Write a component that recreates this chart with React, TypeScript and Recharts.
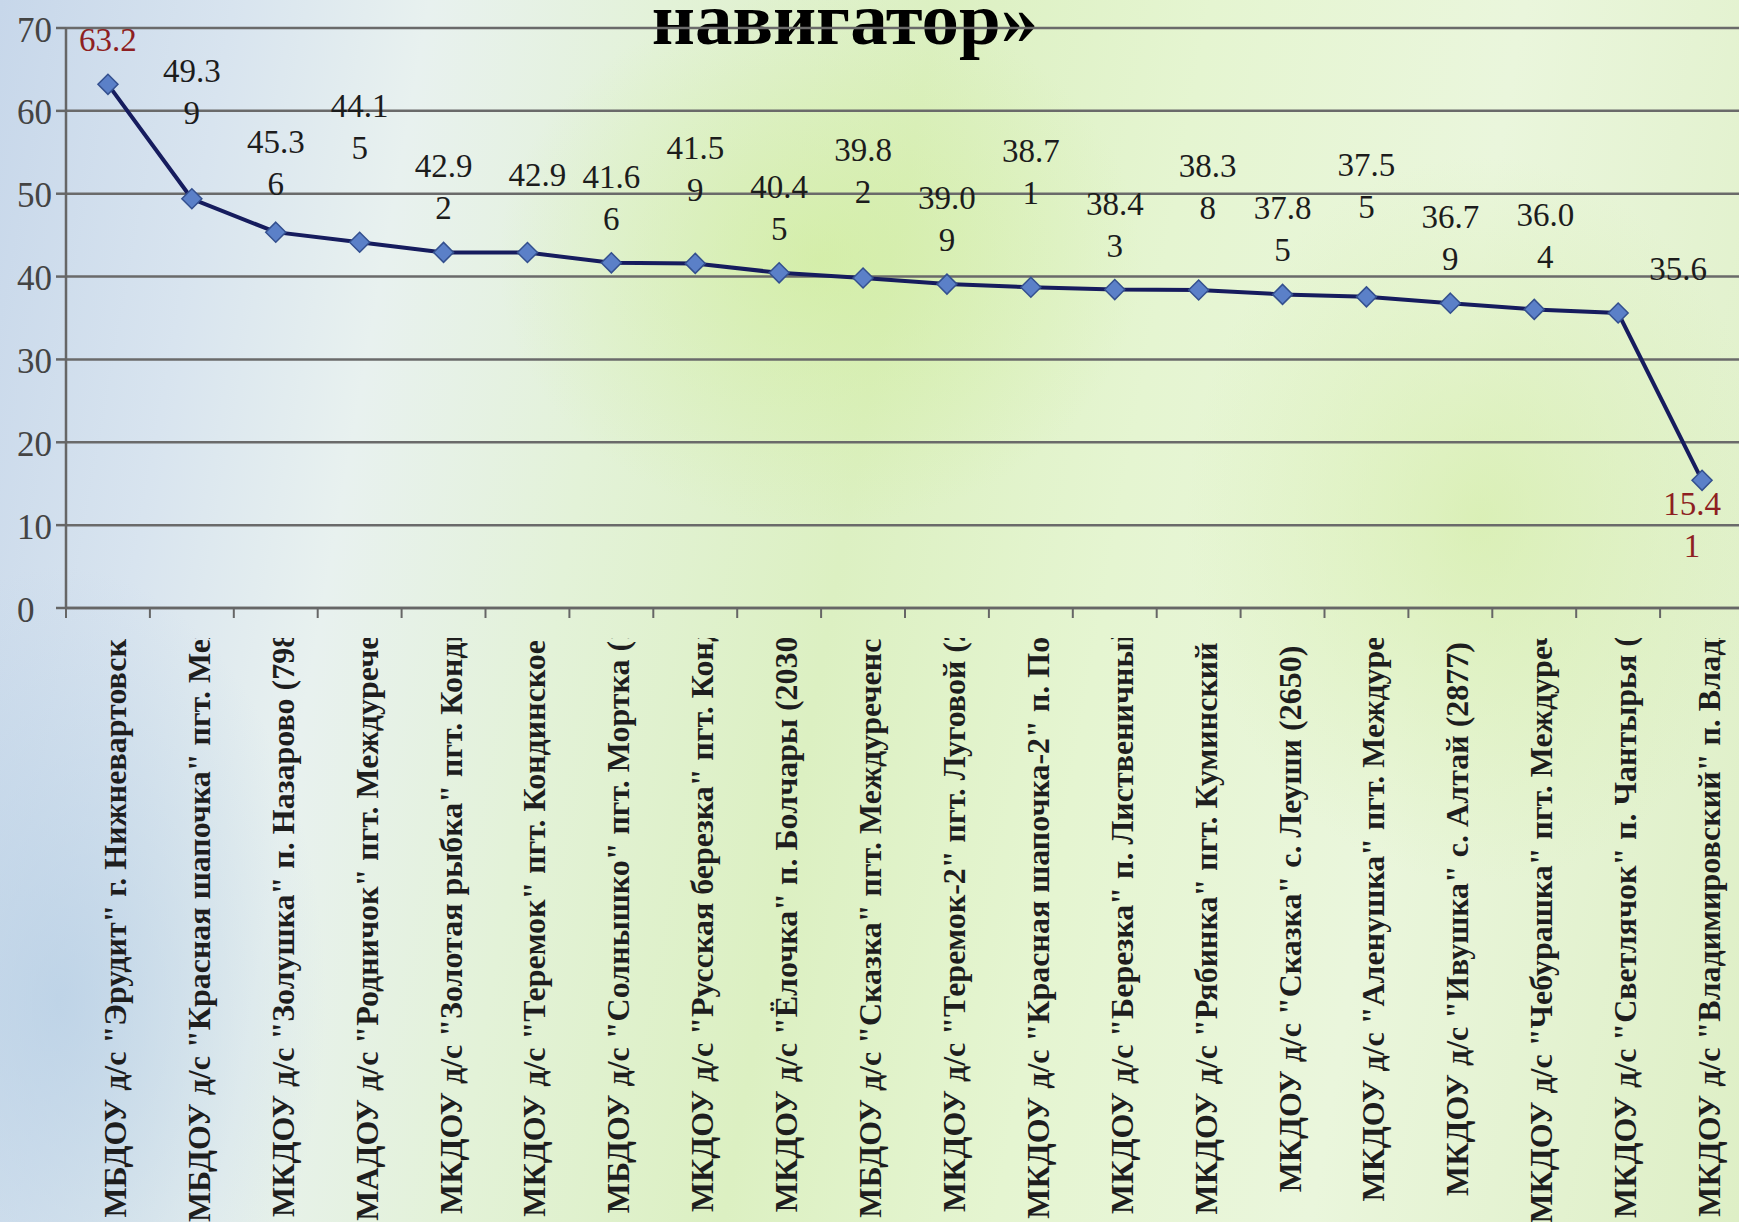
import { LineChart, Line, XAxis, YAxis, CartesianGrid, LabelList } from "recharts";

const schools = [
  'МБДОУ д/с "Эрудит" г. Нижневартовск (',
  'МБДОУ д/с "Красная шапочка" пгт. Меж',
  'МКДОУ д/с "Золушка" п. Назарово (798)',
  'МАДОУ д/с "Родничок" пгт. Междуречен',
  'МКДОУ д/с "Золотая рыбка" пгт. Конди',
  'МКДОУ д/с "Теремок" пгт. Кондинское (',
  'МБДОУ д/с "Солнышко" пгт. Мортка (1',
  'МКДОУ д/с "Русская березка" пгт. Конд',
  'МКДОУ д/с "Ёлочка" п. Болчары (2030)',
  'МБДОУ д/с "Сказка" пгт. Междуреченск',
  'МКДОУ д/с "Теремок-2" пгт. Луговой (2',
  'МКДОУ д/с "Красная шапочка-2" п. Пол',
  'МКДОУ д/с "Березка" п. Лиственичный',
  'МКДОУ д/с "Рябинка" пгт. Куминский (',
  'МКДОУ д/с "Сказка" с. Леуши (2650)',
  'МКДОУ д/с "Аленушка" пгт. Междуре',
  'МКДОУ д/с "Ивушка" с. Алтай (2877)',
  'МКДОУ д/с "Чебурашка" пгт. Междурече',
  'МКДОУ д/с "Светлячок" п. Чантырья (2',
  'МКДОУ д/с "Владимировский" п. Влади',
];

const scores = [
  63.2, 49.39, 45.36, 44.15, 42.92, 42.9, 41.66, 41.59, 40.45, 39.82,
  39.09, 38.71, 38.43, 38.38, 37.85, 37.55, 36.79, 36.04, 35.6, 15.41,
];

const yTicks = [0, 10, 20, 30, 40, 50, 60, 70];

const titleText = "навигатор»";

// value labels: extra lift in text lines, and sideways nudge
const labelRaise = [0, 1, 0.1, 1.2, 0, 0.8, 0, 0.7, 0, 1, 0, 1.2, 0, 0.9, 0, 1.1, 0, 0.2, 0, -2.6];
const labelNudge = [0, 0, 0, 0, 0, 10, 0, 0, 0, 0, 0, 0, 0, 9, 0, 0, 0, 11, 60, -10];

const W = 1744;
const H = 1222;
const LEFT = 66;
const AXIS_Y = 608;
const BAND = (W - LEFT) / scores.length;
const LINE_H = 42;
const SERIF = '"Liberation Serif", "Times New Roman", serif';

const data = schools.map((name, i) => ({ name, score: scores[i] }));
const maxV = Math.max(...scores);
const minV = Math.min(...scores);

const Diamond = ({ cx, cy }: any) => (
  <polygon
    points={`${cx},${cy - 10} ${cx + 10},${cy} ${cx},${cy + 10} ${cx - 10},${cy}`}
    fill="#5b80c8"
    stroke="#34508f"
    strokeWidth={1.5}
  />
);

const ValueLabel = (props: any) => {
  const { x, y, value, index } = props;
  const s = String(value);
  const lines = s.length > 4 ? [s.slice(0, 4), s.slice(4)] : [s];
  const red = value === maxV || value === minV;
  const top = y - LINE_H * (lines.length + labelRaise[index]) - 2;
  return (
    <text
      x={x + labelNudge[index]}
      y={top}
      textAnchor="middle"
      dominantBaseline="central"
      fontFamily={SERIF}
      fontSize={33}
      fill={red ? "#8e1f22" : "#1c1c1c"}
    >
      {lines.map((l, k) => (
        <tspan key={k} x={x + labelNudge[index]} dy={k === 0 ? 0 : LINE_H}>
          {l}
        </tspan>
      ))}
    </text>
  );
};

const XTick = ({ x, payload }: any) => {
  const top = AXIS_Y + 30;
  const h = H - top + 4;
  return (
    <g>
      <line x1={x - BAND / 2} y1={AXIS_Y} x2={x - BAND / 2} y2={AXIS_Y + 10} stroke="#666" strokeWidth={2} />
      <svg x={x - 30} y={top} width={60} height={h} overflow="hidden">
        <text
          transform={`translate(37, ${h / 2 - 13}) rotate(-90)`}
          textAnchor="middle"
          dominantBaseline="central"
          fontFamily={SERIF}
          fontWeight="bold"
          fontSize={32}
          fill="#1e1e1e"
        >
          {payload.value}
        </text>
      </svg>
    </g>
  );
};

const YTick = ({ y, payload }: any) => (
  <g>
    <line x1={LEFT - 10} y1={y} x2={LEFT} y2={y} stroke="#666" strokeWidth={2.5} />
    <text
      x={17}
      y={y + 2}
      textAnchor="start"
      dominantBaseline="central"
      fontFamily={SERIF}
      fontSize={35}
      fill="#444"
    >
      {payload.value}
    </text>
  </g>
);

export default function App() {
  return (
    <div
      style={{
        position: "absolute",
        left: 0,
        top: 0,
        width: 1739,
        height: H,
        overflow: "hidden",
        background:
          "radial-gradient(ellipse 460px 380px at 820px 260px, rgba(206,236,150,0.6), rgba(206,236,150,0) 70%), radial-gradient(ellipse 420px 520px at 1480px 520px, rgba(212,237,168,0.7), rgba(212,237,168,0) 70%), radial-gradient(ellipse 380px 620px at 60px 1000px, rgba(180,205,228,0.7), rgba(180,205,228,0) 70%), linear-gradient(100deg, #c7d7ea 0%, #d8e4ef 12%, #e8f1ef 22%, #e3f2d8 34%, #dcf0c2 48%, #e5f5d1 62%, #eaf6dc 78%, #deefc6 100%)",
      }}
    >
      <div
        style={{
          position: "absolute",
          left: 0,
          width: 1690,
          top: -19,
          textAlign: "center",
          fontFamily: SERIF,
          fontWeight: "bold",
          fontSize: 75,
          lineHeight: "75px",
          color: "#000",
        }}
      >
        {titleText}
      </div>
      <LineChart width={W} height={H} data={data} margin={{ top: 28, right: 0, bottom: 0, left: 0 }}>
        <CartesianGrid vertical={false} stroke="#6a6a6a" strokeWidth={2.5} />
        <XAxis
          dataKey="name"
          interval={0}
          height={H - AXIS_Y}
          padding={{ left: BAND / 2, right: BAND / 2 }}
          tick={<XTick />}
          tickLine={false}
          axisLine={{ stroke: "#666", strokeWidth: 2.5 }}
        />
        <YAxis
          domain={[0, 70]}
          ticks={yTicks}
          width={LEFT}
          tickLine={false}
          axisLine={{ stroke: "#666", strokeWidth: 2.5 }}
          tick={<YTick />}
        />
        <Line
          type="linear"
          dataKey="score"
          stroke="#161c5e"
          strokeWidth={4}
          isAnimationActive={false}
          dot={(p: any) => <Diamond key={p.index} cx={p.cx} cy={p.cy} />}
          activeDot={false}
        >
          <LabelList dataKey="score" content={<ValueLabel />} />
        </Line>
      </LineChart>
    </div>
  );
}
